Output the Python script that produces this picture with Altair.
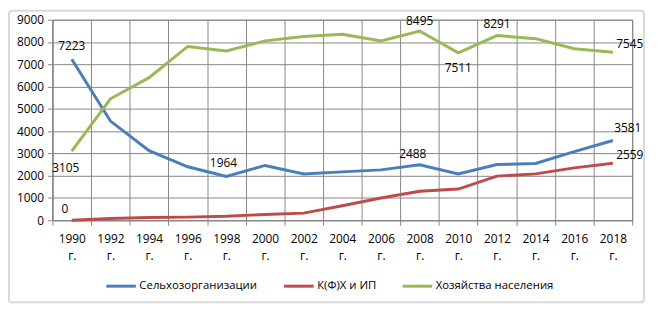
import altair as alt
import pandas as pd

years = [1990, 1992, 1994, 1996, 1998, 2000, 2002, 2004, 2006, 2008, 2010, 2012, 2014, 2016, 2018]
year_labels = [f"{y} г." for y in years]
series_names = ["Сельхозорганизации", "К(Ф)Х и ИП", "Хозяйства населения"]
selkhoz = [7223, 4450, 3120, 2400, 1964, 2460, 2080, 2170, 2260, 2488, 2080, 2500, 2550, 3080, 3581]
kfh = [0, 80, 120, 140, 180, 260, 320, 650, 1000, 1300, 1400, 1980, 2080, 2350, 2559]
hoz = [3105, 5450, 6400, 7800, 7600, 8050, 8250, 8350, 8050, 8495, 7511, 8291, 8150, 7700, 7545]
colors = ["#4a7ebb", "#be4b48", "#98b954"]

rows = []
for name, vals in zip(series_names, [selkhoz, kfh, hoz]):
    for lab, v in zip(year_labels, vals):
        rows.append({"year": lab, "value": v, "series": name})
df = pd.DataFrame(rows)

FONT = "Open Sans"

x_enc = alt.X(
    "year:N",
    sort=year_labels,
    scale=alt.Scale(type="band", paddingInner=0, paddingOuter=0),
    axis=alt.Axis(
        title=None,
        labelAngle=0,
        tickBand="extent",
        labelExpr="split(datum.label, ' ')",
        labelFontSize=12,
        labelFont=FONT,
        labelColor="#000000",
        labelLineHeight=17,
        labelPadding=9,
        tickSize=5,
        tickColor="#868686",
        domainColor="#868686",
        gridColor="#868686",
        grid=True,
    ),
)
y_enc = alt.Y(
    "value:Q",
    scale=alt.Scale(domain=[0, 9000], nice=False),
    axis=alt.Axis(
        title=None,
        values=list(range(0, 9001, 1000)),
        format="d",
        labelOverlap=False,
        labelFontSize=12,
        labelFont=FONT,
        labelColor="#000000",
        labelPadding=4,
        tickSize=5,
        tickColor="#868686",
        domainColor="#868686",
        gridColor="#868686",
        grid=True,
    ),
)

lines = alt.Chart(df).mark_line(strokeWidth=3).encode(
    x=x_enc,
    y=y_enc,
    color=alt.Color(
        "series:N",
        sort=series_names,
        scale=alt.Scale(domain=series_names, range=colors),
        legend=alt.Legend(
            title=None,
            orient="none",
            legendX=53,
            legendY=253,
            direction="horizontal",
            symbolType="stroke",
            symbolStrokeWidth=3,
            symbolSize=900,
            labelFontSize=11.5,
            labelFont=FONT,
            labelColor="#000000",
            labelOffset=2,
            columnPadding=20,
        ),
    ),
)

# (series index, year, dx, dy)
annotations = [
    (0, 1990, 0, -13), (1, 1990, -7, -11), (2, 1990, -6, 17),
    (0, 1998, -3, -14), (0, 2008, -7, -11), (2, 2008, 0, -10),
    (2, 2010, 0, 15), (2, 2012, 0, -12), (2, 2018, 17, -8),
    (0, 2018, 15, -13), (1, 2018, 17, -8),
]
layers = [lines]
for si, yr, dx, dy in annotations:
    sub = df[(df.series == series_names[si]) & (df.year == f"{yr} г.")]
    layers.append(
        alt.Chart(sub).mark_text(dx=dx, dy=dy, fontSize=12, font=FONT, color="#000000").encode(
            x=x_enc, y=y_enc, text="value:Q"
        )
    )

border = alt.Chart(pd.DataFrame({"a": [0]})).mark_rect(
    fill=None, stroke="#d9d9d9", strokeWidth=2, cornerRadius=3
).encode(x=alt.value(-44), x2=alt.value(599), y=alt.value(-9), y2=alt.value(286))

chart = alt.layer(*layers, border).properties(
    width=587, height=203,
    padding={"left": 45, "top": 10, "right": 18, "bottom": 89},
    autosize=alt.AutoSizeParams(type="none"),
).configure_view(stroke="#868686")

chart.save("out.html", embed_options={"renderer": "svg", "actions": False})
